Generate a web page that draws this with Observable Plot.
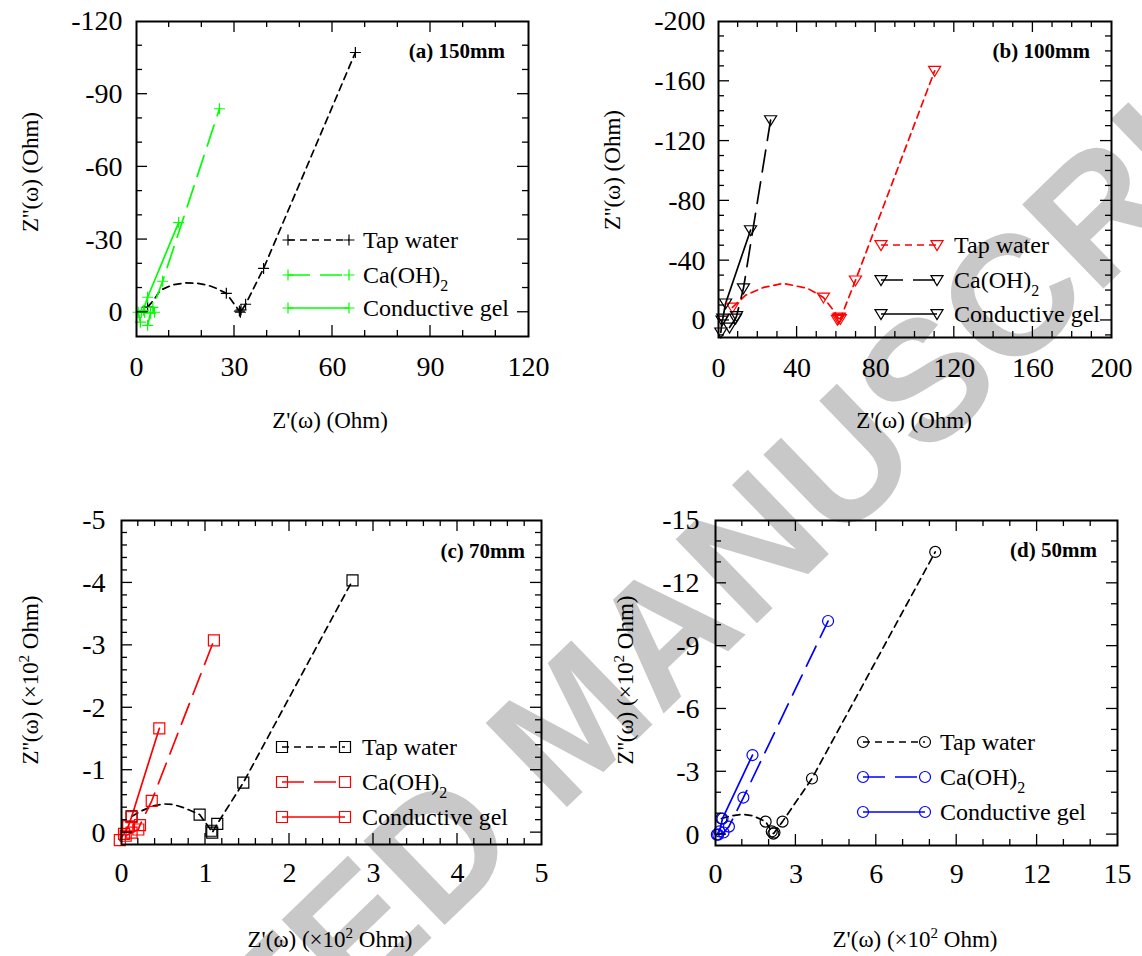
<!DOCTYPE html>
<html><head><meta charset="utf-8">
<script src="https://cdn.jsdelivr.net/npm/d3@7"></script>
<script src="https://cdn.jsdelivr.net/npm/@observablehq/plot@0.6"></script>
<style>
body{margin:0;background:#fff;}
#wrap{position:relative;width:1142px;height:956px;overflow:hidden;background:#fff;}
#wm{position:absolute;left:572px;top:720px;transform:translate(-50%,-50%) rotate(-44deg);font:bold 170px "Liberation Sans",Arial,sans-serif;color:#c8c8c8;white-space:nowrap;z-index:0;}
#wrap svg{position:absolute;left:0;top:0;z-index:1;}
</style></head><body><div id="wrap"><div id="wm">ACCEPTED MANUSCRIPT</div></div>
<script>
const FONT = '"Liberation Serif","Times New Roman",serif';
const seriesLabels = ["Tap water", "Ca(OH)", "Conductive gel"];
const seriesSubs = ["", "2", ""];

// (a) 150mm  (x: Z', y: Z'')
const a_tap = [
  {x:3.4,y:-2.1,m:1},{x:5.2,y:-4.9},{x:7.3,y:-9.1},{x:11,y:-11.3},{x:15,y:-12.1},{x:18.4,y:-12},
  {x:22,y:-11.1},{x:24.2,y:-10},{x:27.5,y:-7.8,m:1},{x:31.5,y:-0.5,m:1},{x:32,y:-1,m:1},
  {x:31.8,y:0,m:1},{x:33.4,y:-3.3,m:1},{x:38.9,y:-18.1,m:1},{x:67,y:-107.2,m:1}];
const a_ca = [
  {x:3.4,y:5.4,m:1},{x:4.3,y:0.4,m:1},{x:5.5,y:0,m:1},{x:5,y:-2,m:1},{x:8,y:-12.8,m:1},{x:25.4,y:-84,m:1}];
const a_gel = [
  {x:1.2,y:4.1,m:1},{x:0.5,y:0,m:1},{x:1.5,y:0,m:1},{x:2.5,y:0,m:1},{x:2.1,y:-0.8,m:1},{x:3.4,y:-6.2,m:1},{x:12.9,y:-37,m:1}];
const a_xTicks = [0,30,60,90,120];
const a_yTicks = [-120,-90,-60,-30,0];

// (b) 100mm
const b_tap = [
  {x:7.1,y:-8.7,m:1},{x:13.7,y:-16.8},{x:22.9,y:-22.1},{x:33,y:-24.8},{x:45.3,y:-21.5},
  {x:53.4,y:-15.4,m:1},{x:59,y:-6},{x:61,y:-1.3,m:1},{x:60.5,y:-0.5,m:1},{x:61.5,y:-2,m:1},
  {x:62,y:-1,m:1},{x:69.7,y:-26.8,m:1},{x:110,y:-167,m:1}];
const b_ca = [
  {x:5.6,y:4.7,m:1},{x:8.7,y:-1.3,m:1},{x:9.2,y:-3,m:1},{x:12.7,y:-21.5,m:1},{x:26.5,y:-134,m:1}];
const b_gel = [
  {x:1.2,y:8,m:1},{x:1.8,y:0,m:1},{x:2.2,y:-1.3,m:1},{x:3.6,y:-11.4,m:1},{x:16.3,y:-60.4,m:1}];
const b_xTicks = [0,40,80,120,160,200];
const b_yTicks = [-200,-160,-120,-80,-40,0];

// (c) 70mm  (x10^2 Ohm)
const c_tap = [
  {x:0.12,y:-0.26,m:1},{x:0.24,y:-0.35},{x:0.38,y:-0.43},{x:0.5,y:-0.46},{x:0.62,y:-0.45},
  {x:0.74,y:-0.4},{x:0.93,y:-0.29,m:1},{x:1.07,y:-0.03,m:1},{x:1.08,y:0,m:1},
  {x:1.14,y:-0.14,m:1},{x:1.45,y:-0.8,m:1},{x:2.75,y:-4.04,m:1}];
const c_ca = [
  {x:0.05,y:0.05,m:1},{x:0.12,y:0,m:1},{x:0.2,y:-0.05,m:1},{x:0.22,y:-0.12,m:1},{x:0.36,y:-0.51,m:1},{x:1.1,y:-3.08,m:1}];
const c_gel = [
  {x:-0.02,y:0.12,m:1},{x:0.03,y:0.02,m:1},{x:0.08,y:-0.1,m:1},{x:0.12,y:-0.25,m:1},{x:0.45,y:-1.67,m:1}];
const c_xTicks = [0,1,2,3,4,5];
const c_yTicks = [-5,-4,-3,-2,-1,0];

// (d) 50mm  (x10^2 Ohm)
const d_tap = [
  {x:0.22,y:-0.77,m:1},{x:0.6,y:-0.9},{x:1.0,y:-0.97},{x:1.4,y:-0.9},{x:1.87,y:-0.62,m:1},
  {x:2.1,y:-0.15,m:1},{x:2.16,y:-0.05,m:1},{x:2.2,y:-0.1,m:1},{x:2.5,y:-0.62,m:1},
  {x:3.6,y:-2.68,m:1},{x:8.2,y:-13.5,m:1}];
const d_ca = [
  {x:0.1,y:0,m:1},{x:0.3,y:-0.1,m:1},{x:0.5,y:-0.38,m:1},{x:1.04,y:-1.77,m:1},{x:4.2,y:-10.2,m:1}];
const d_gel = [
  {x:0.05,y:0,m:1},{x:0.15,y:-0.15,m:1},{x:0.26,y:-0.76,m:1},{x:1.38,y:-3.8,m:1}];
const d_xTicks = [0,3,6,9,12,15];
const d_yTicks = [-15,-12,-9,-6,-3,0];

// symbols
const symPlus = {draw(c,s){const r=Math.sqrt(s/Math.PI);c.moveTo(-r,0);c.lineTo(r,0);c.moveTo(0,-r);c.lineTo(0,r);}};
const symTri = {draw(c,s){const r=Math.sqrt(s/Math.PI);c.moveTo(-r*1.1,-r*0.8);c.lineTo(r*1.1,-r*0.8);c.lineTo(0,r*1.0);c.closePath();}};
const symSq = {draw(c,s){const r=Math.sqrt(s/Math.PI);c.rect(-r,-r,2*r,2*r);}};
const symCirc = {draw(c,s){const r=Math.sqrt(s/Math.PI);c.moveTo(r,0);c.arc(0,0,r,0,2*Math.PI);}};

const DASH = ["7,5", "22,10", null];

const panels = [
  {series:[a_tap,a_ca,a_gel], colors:["#000","#00ff00","#00ff00"], sym:symPlus,
   frame:[136,21,528,336], xd:[0,120], yd:[10,-120], xt:a_xTicks, yt:a_yTicks, xm:10, ym:10,
   ypad:14, xpad:20, title:"(a) 150mm", tx:505, ty:58,
   leg:{x1:288, x2:349, tx:363, rows:[240,275,308]},
   xlab:{x:330,y:428,sup:false}, ylab:{x:30,y:172,sup:false}},
  {series:[b_tap,b_ca,b_gel], colors:["#ff0000","#000","#000"], sym:symTri,
   frame:[718,21,1111,337], xd:[0,200], yd:[11.4,-200], xt:b_xTicks, yt:b_yTicks, xm:10, ym:10,
   ypad:13, xpad:20, title:"(b) 100mm", tx:1090, ty:58,
   leg:{x1:881, x2:937, tx:954, rows:[245,280,314]},
   xlab:{x:914,y:428,sup:false}, ylab:{x:612,y:170,sup:false}},
  {series:[c_tap,c_ca,c_gel], colors:["#000","#ff0000","#ff0000"], sym:symSq,
   frame:[121,520,541,844], xd:[0,5], yd:[0.19,-5], xt:c_xTicks, yt:c_yTicks, xm:0.2, ym:0.2,
   ypad:16, xpad:18, title:"(c) 70mm", tx:525, ty:558,
   leg:{x1:282, x2:345, tx:362, rows:[747,782,817]},
   xlab:{x:330,y:947,sup:true}, ylab:{x:30,y:680,sup:true}},
  {series:[d_tap,d_ca,d_gel], colors:["#000","#0000ff","#0000ff"], sym:symCirc,
   frame:[715,520,1117,845], xd:[0,15], yd:[0.52,-15], xt:d_xTicks, yt:d_yTicks, xm:1, ym:1,
   ypad:16, xpad:18, title:"(d) 50mm", tx:1097, ty:557,
   leg:{x1:863, x2:925, tx:940, rows:[742,777,812]},
   xlab:{x:915,y:947,sup:true}, ylab:{x:625,y:680,sup:true}}
];

const W = 1142, H = 956;
const wrap = document.getElementById("wrap");
const R = 5.5;

function addTitle(g, x, y, main, sup, rotate) {
  const t = g.append("text").attr("font-size", 23).attr("text-anchor","middle")
    .attr("transform", rotate ? `translate(${x},${y}) rotate(-90)` : `translate(${x},${y})`)
    .attr("dy", rotate ? "0.35em" : 0);
  if (!sup) { t.text(main + " (Ohm)"); return; }
  t.append("tspan").text(main + " (\u00d710");
  t.append("tspan").attr("font-size", 15).attr("dy", -9).text("2");
  t.append("tspan").attr("dy", 9).text(" Ohm)");
}

for (const p of panels) {
  const [fl, ft, fr, fb] = p.frame;
  const marks = [];
  p.series.forEach((s, i) => {
    marks.push(Plot.line(s, {x:"x", y:"y", stroke:p.colors[i], strokeWidth:1.7, strokeDasharray:DASH[i]}));
  });
  p.series.forEach((s, i) => {
    marks.push(Plot.dot(s.filter(d => d.m), {x:"x", y:"y", symbol:p.sym, r:R, stroke:p.colors[i], fill:"none", strokeWidth:1.2}));
  });
  marks.push(Plot.frame({stroke:"#000", strokeWidth:2}));
  marks.push(Plot.axisX(p.xt, {tickSize:0, tickPadding:p.xpad, tickFormat:d => String(d), label:null, fontSize:28}));
  marks.push(Plot.axisY(p.yt, {tickSize:0, tickPadding:p.ypad, tickFormat:d => String(d), label:null, fontSize:28}));
  const chart = Plot.plot({
    width:W, height:H, marginLeft:fl, marginTop:ft, marginRight:W-fr, marginBottom:H-fb,
    x:{domain:p.xd}, y:{domain:p.yd},
    style:{background:"transparent", fontFamily:FONT, color:"#000", overflow:"visible"},
    marks
  });
  wrap.appendChild(chart);
  const sx = chart.scale("x"), sy = chart.scale("y");
  const fx = d3.scaleLinear(sx.domain, sx.range), fy = d3.scaleLinear(sy.domain, sy.range);
  const svg = d3.select(chart);
  const g = svg.append("g").attr("stroke","#000").attr("stroke-width",1.3).attr("fill","none");
  const [x0, x1] = fx.range(); const [y0, y1] = fy.range();
  const isMajor = (v, arr) => arr.some(t => Math.abs(t - v) < 1e-9);
  const xs = d3.range(Math.ceil(p.xd[0]/p.xm), Math.floor(p.xd[1]/p.xm)+1).map(k => +(k*p.xm).toFixed(6));
  const ylo = Math.min(...p.yd), yhi = Math.max(...p.yd);
  const ys = d3.range(Math.ceil(ylo/p.ym), Math.floor(yhi/p.ym)+1).map(k => +(k*p.ym).toFixed(6));
  for (const v of xs) {
    const x = fx(v), L = isMajor(v, p.xt) ? 11 : 6;
    if (x <= x0 + 0.5 || x >= x1 - 0.5) continue;
    g.append("line").attr("x1",x).attr("x2",x).attr("y1",y0).attr("y2",y0-L);
    g.append("line").attr("x1",x).attr("x2",x).attr("y1",y1).attr("y2",y1+L);
  }
  for (const v of ys) {
    const y = fy(v), L = isMajor(v, p.yt) ? 11 : 6;
    if (y >= y0 - 0.5 || y <= y1 + 0.5) continue;
    g.append("line").attr("x1",x0).attr("x2",x0+L).attr("y1",y).attr("y2",y);
    g.append("line").attr("x1",x1).attr("x2",x1-L).attr("y1",y).attr("y2",y);
  }
  // legend
  const lg = svg.append("g").attr("font-family", FONT).attr("text-anchor","start");
  p.series.forEach((s, i) => {
    const y = p.leg.rows[i];
    lg.append("line").attr("x1",p.leg.x1).attr("x2",p.leg.x2).attr("y1",y).attr("y2",y)
      .attr("stroke",p.colors[i]).attr("stroke-width",1.7).attr("stroke-dasharray",DASH[i]);
    const path = d3.symbol(p.sym, Math.PI*R*R)();
    for (const xx of [p.leg.x1, p.leg.x2])
      lg.append("path").attr("d",path).attr("transform",`translate(${xx},${y})`)
        .attr("fill","none").attr("stroke",p.colors[i]).attr("stroke-width",1.2);
    const t = lg.append("text").attr("x",p.leg.tx).attr("y",y+8).attr("font-size",24)
      .attr("text-anchor","start").attr("fill","#000").text(seriesLabels[i]);
    if (seriesSubs[i]) t.append("tspan").attr("font-size",16).attr("dy",8).text(seriesSubs[i]);
  });
  // panel title
  svg.append("text").attr("x",p.tx).attr("y",p.ty).attr("text-anchor","end").attr("font-family",FONT)
    .attr("font-weight","bold").attr("font-size",21).text(p.title);
  // axis titles
  const tg = svg.append("g").attr("font-family",FONT).attr("fill","#000");
  addTitle(tg, p.xlab.x, p.xlab.y, "Z'(\u03c9)", p.xlab.sup, false);
  addTitle(tg, p.ylab.x, p.ylab.y, "Z''(\u03c9)", p.ylab.sup, true);
}
</script></body></html>
